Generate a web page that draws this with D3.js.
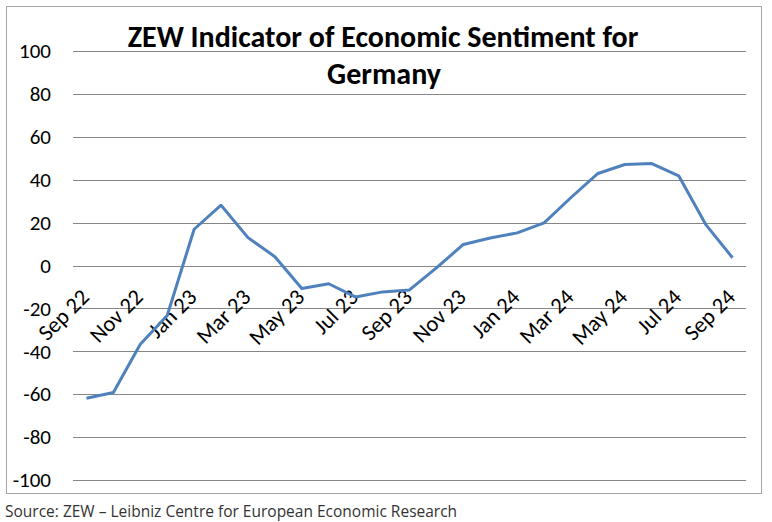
<!DOCTYPE html>
<html>
<head>
<meta charset="utf-8">
<script src="https://cdn.jsdelivr.net/npm/d3@7/dist/d3.min.js"></script>
<style>
  html, body { margin: 0; padding: 0; background: #fff; }
  svg { display: block; }
</style>
</head>
<body>
<svg id="chart" width="772" height="522"></svg>
<script>
const months = ["Sep 22","Oct 22","Nov 22","Dec 22","Jan 23","Feb 23","Mar 23","Apr 23","May 23","Jun 23","Jul 23","Aug 23","Sep 23","Oct 23","Nov 23","Dec 23","Jan 24","Feb 24","Mar 24","Apr 24","May 24","Jun 24","Jul 24","Aug 24","Sep 24"];
const sentiment = [-61.9,-59.2,-36.7,-23.3,16.9,28.1,13.0,4.1,-10.7,-8.5,-14.7,-12.3,-11.4,-1.1,9.8,12.8,15.2,19.9,31.7,42.9,47.1,47.5,41.8,19.2,3.6];
const yTicks = [-100,-80,-60,-40,-20,0,20,40,60,80,100];
const titleLines = ["ZEW Indicator of Economic Sentiment for","Germany"];
const sourceText = "Source: ZEW \u2013 Leibniz Centre for European Economic Research";

(function () {
const svg = d3.select("#chart");
const calibri = "Carlito, Calibri, Lato, 'Liberation Sans', sans-serif";

svg.append("rect").attr("x",6.5).attr("y",6.5).attr("width",755).attr("height",487)
  .attr("fill","#fff").attr("stroke","#a6a6a6").attr("stroke-width",1);

const pl = 73, pr = 746, pt = 51, pb = 480;
const x = d3.scaleBand().domain(months).range([pl, pr]);
const y = d3.scaleLinear().domain([-100, 100]).range([pb, pt]);

svg.append("g").selectAll("line").data(yTicks).join("line")
  .attr("x1", pl).attr("x2", pr)
  .attr("y1", d => Math.round(y(d)) + 0.5).attr("y2", d => Math.round(y(d)) + 0.5)
  .attr("stroke", "#868686").attr("stroke-width", 1);

const yAxis = d3.axisLeft(y).tickValues(yTicks).tickSize(0).tickPadding(0).tickFormat(d => d);
const yg = svg.append("g").attr("transform", "translate(51,0)").call(yAxis);
yg.select(".domain").remove();
yg.selectAll("text").attr("font-family", calibri).attr("font-size", 21).attr("fill", "#000");

const xLabels = months.filter((m, i) => i % 2 === 0);
const xAxis = d3.axisBottom(x).tickValues(xLabels).tickSize(0).tickPadding(0);
const xg = svg.append("g").attr("transform", `translate(0,${y(0)})`).call(xAxis);
xg.select(".domain").remove();
xg.selectAll(".tick text")
  .attr("font-family", calibri).attr("font-size", 22.5).attr("fill", "#000")
  .attr("text-anchor", "end")
  .attr("dy", null).attr("y", null)
  .attr("transform", "translate(4,33) rotate(-45)");

const line = d3.line()
  .x((d, i) => x(months[i]) + x.bandwidth() / 2)
  .y(d => y(d));
svg.append("path").datum(sentiment)
  .attr("d", line).attr("fill", "none")
  .attr("stroke", "#4f81bd").attr("stroke-width", 3).attr("stroke-linejoin", "round");

svg.append("text").attr("x", 383).attr("y", 47).attr("text-anchor", "middle")
  .attr("font-family", calibri).attr("font-weight", "bold").attr("font-size", 30)
  .text(titleLines[0]);
svg.append("text").attr("x", 384).attr("y", 84).attr("text-anchor", "middle")
  .attr("font-family", calibri).attr("font-weight", "bold").attr("font-size", 30)
  .text(titleLines[1]);

svg.append("text").attr("x", 5).attr("y", 517)
  .attr("font-family", "'Open Sans', sans-serif").attr("font-size", 15.5).attr("fill", "#333")
  .text(sourceText);
})();
</script>
</body>
</html>
